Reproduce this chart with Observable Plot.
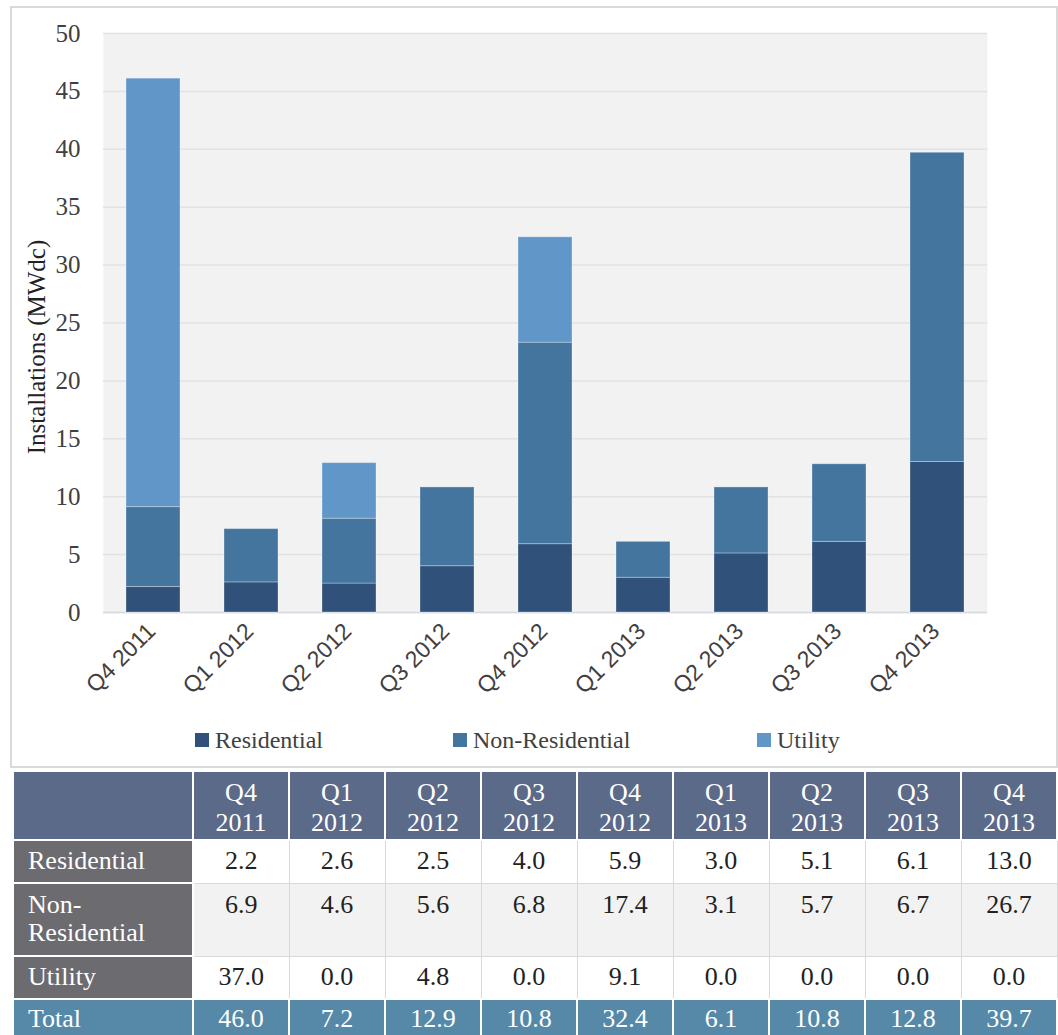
<!DOCTYPE html>
<html>
<head>
<meta charset="utf-8">
<script src="https://cdn.jsdelivr.net/npm/d3@7"></script>
<script src="https://cdn.jsdelivr.net/npm/@observablehq/plot@0.6"></script>
<style>
  html, body { margin: 0; padding: 0; background: #ffffff; }
  #wrap { position: relative; width: 1058px; height: 1035px; overflow: hidden; }
  #frame { position: absolute; left: 10px; top: 6px; width: 1044px; height: 758px; border: 2px solid #d9d9d9; pointer-events: none; }
  #chart svg { display: block; }
  #legend { position: relative; height: 50px; font-family: "Liberation Serif", "Times New Roman", serif; font-size: 24px; color: #404040; }
  .li { position: absolute; top: 7px; display: flex; align-items: center; line-height: 30px; }
  .sw { width: 14px; height: 14px; margin-right: 6px; }
  table { position: absolute; left: 12px; top: 770px; border-collapse: collapse; table-layout: fixed; width: 1046px;
          font-family: "Liberation Serif", "Times New Roman", serif; font-size: 26px; }
  td { padding: 0; line-height: 28px; text-align: center; vertical-align: top; border: 1px solid #d9d9d9; color: #222; }
  tr.head td { background: #5a6a88; color: #fff; border: 2px solid #fff; line-height: 30px; padding-top: 6px; padding-bottom: 1px; height: 60px; }
  td.lab { background: #6b6b70; color: #fff; text-align: left; padding-left: 14px; border: 2px solid #fff; }
  tr.r1 td { padding-top: 6px; height: 35px; background: #fff; }
  tr.r2 td { padding-top: 7px; height: 64px; background: #f2f2f2; }
  tr.r3 td { padding-top: 6px; height: 35px; background: #fff; }
  tr.tot td { padding-top: 5px; height: 35px; background: #5689a8; color: #fff; border: 2px solid #fff; }
  tr td.lab { background: #6b6b70; }
  tr.tot td.lab { background: #5689a8; }
</style>
</head>
<body>
<div id="wrap">
  <div id="chart"></div>
  <div id="legend"></div>
  <div id="tablewrap"></div>
  <div id="frame"></div>
</div>
<script>
const quarters = ["Q4 2011", "Q1 2012", "Q2 2012", "Q3 2012", "Q4 2012", "Q1 2013", "Q2 2013", "Q3 2013", "Q4 2013"];
const seriesNames = ["Residential", "Non-Residential", "Utility"];
const seriesColors = ["#30527a", "#44759f", "#6196c9"];
const residential = [2.2, 2.6, 2.5, 4.0, 5.9, 3.0, 5.1, 6.1, 13.0];
const nonResidential = [6.9, 4.6, 5.6, 6.8, 17.4, 3.1, 5.7, 6.7, 26.7];
const utility = [37.0, 0.0, 4.8, 0.0, 9.1, 0.0, 0.0, 0.0, 0.0];
const totals = [46.0, 7.2, 12.9, 10.8, 32.4, 6.1, 10.8, 12.8, 39.7];
const yTicks = [0, 5, 10, 15, 20, 25, 30, 35, 40, 45, 50];
const yLabel = "Installations (MWdc)";
const legendLeft = [195, 453, 757];

const seriesValues = [residential, nonResidential, utility];
const data = [];
quarters.forEach((q, i) => {
  seriesNames.forEach((s, j) => {
    data.push({quarter: q, series: s, value: seriesValues[j][i]});
  });
});

const chart = Plot.plot({
  width: 1058,
  height: 718,
  marginLeft: 103,
  marginRight: 71,
  marginTop: 33,
  marginBottom: 106,
  style: {background: "transparent", overflow: "visible"},
  x: {domain: quarters, paddingInner: 0.45, paddingOuter: 0.225, label: null},
  y: {domain: [0, 50], label: null},
  color: {domain: seriesNames, range: seriesColors},
  marks: [
    Plot.frame({fill: "#f2f2f2", stroke: null}),
    Plot.gridY(yTicks, {stroke: "#e2e2e2", strokeOpacity: 1, strokeWidth: 1.5}),
    Plot.ruleY([0], {stroke: "#d6dbe3", strokeWidth: 1.5}),
    Plot.barY(data, {x: "quarter", y: "value", fill: "series", stroke: "#ffffff", strokeOpacity: 0.3, strokeWidth: 1}),
    Plot.axisY(yTicks, {tickSize: 0, tickPadding: 23, fontSize: 25, fontFamily: "Liberation Serif", fill: "#404040", label: null}),
    Plot.axisX({tickSize: 0, tickPadding: 15, dx: -2, tickRotate: -45, fontSize: 23, fontFamily: "Liberation Sans", fill: "#404040", label: null}),
    Plot.text([yLabel], {frameAnchor: "left", textAnchor: "middle", rotate: -90, dx: -67, dy: 24, fontSize: 25, fontFamily: "Liberation Serif", fill: "#222"})
  ]
});
document.getElementById("chart").appendChild(chart);

// Legend
const legend = document.getElementById("legend");
seriesNames.forEach((s, i) => {
  const item = document.createElement("div");
  item.className = "li";
  item.style.left = legendLeft[i] + "px";
  const sw = document.createElement("span");
  sw.className = "sw";
  sw.style.background = seriesColors[i];
  const t = document.createElement("span");
  t.textContent = s;
  item.appendChild(sw);
  item.appendChild(t);
  legend.appendChild(item);
});

// Table
const table = document.createElement("table");
const colgroup = document.createElement("colgroup");
const c0 = document.createElement("col"); c0.style.width = "180px"; colgroup.appendChild(c0);
quarters.forEach(() => { const c = document.createElement("col"); c.style.width = "96px"; colgroup.appendChild(c); });
table.appendChild(colgroup);

const head = document.createElement("tr");
head.className = "head";
head.appendChild(document.createElement("td"));
quarters.forEach(q => {
  const td = document.createElement("td");
  const parts = q.split(" ");
  td.innerHTML = parts[0] + "<br>" + parts[1];
  head.appendChild(td);
});
table.appendChild(head);

const rowDefs = [
  {cls: "r1", label: "Residential", vals: residential},
  {cls: "r2", label: "Non-<br>Residential", vals: nonResidential},
  {cls: "r3", label: "Utility", vals: utility},
  {cls: "tot", label: "Total", vals: totals}
];
rowDefs.forEach(r => {
  const tr = document.createElement("tr");
  tr.className = r.cls;
  const lab = document.createElement("td");
  lab.className = "lab";
  lab.innerHTML = r.label;
  tr.appendChild(lab);
  r.vals.forEach(v => {
    const td = document.createElement("td");
    td.textContent = v.toFixed(1);
    tr.appendChild(td);
  });
  table.appendChild(tr);
});
document.getElementById("tablewrap").appendChild(table);
</script>
</body>
</html>
